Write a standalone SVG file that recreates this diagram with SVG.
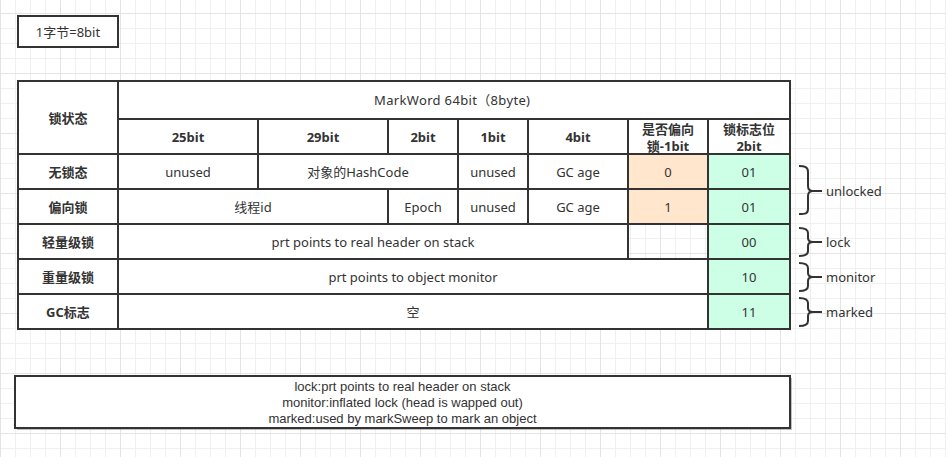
<svg xmlns="http://www.w3.org/2000/svg" width="946" height="457" viewBox="0 0 946 457">
<style>
.t{font-family:"Noto Sans","Noto Sans CJK SC",sans-serif;font-size:13px;fill:#333;text-anchor:middle;dominant-baseline:central}
.b{font-weight:bold}
.l{text-anchor:start}
.c{stroke:#333;stroke-width:2}
.w{fill:#fff}
.p{fill:#ffe6cc}
.g{fill:#ccffe6}
.n{fill:none}
.br{fill:none;stroke:#333;stroke-width:2}
.lg{font-family:"Liberation Sans",Arial,sans-serif;font-size:13px;fill:#333;text-anchor:middle}
</style>
<defs>
<pattern id="grid" x="0" y="13" width="60" height="60" patternUnits="userSpaceOnUse">
<rect x="15" y="0" width="1" height="60" fill="#f0f0f0"/>
<rect x="30" y="0" width="1" height="60" fill="#f0f0f0"/>
<rect x="45" y="0" width="1" height="60" fill="#f0f0f0"/>
<rect x="0" y="15" width="60" height="1" fill="#f0f0f0"/>
<rect x="0" y="30" width="60" height="1" fill="#f0f0f0"/>
<rect x="0" y="45" width="60" height="1" fill="#f0f0f0"/>
<rect x="0" y="0" width="1" height="60" fill="#e4e4e4"/>
<rect x="0" y="0" width="60" height="1" fill="#e4e4e4"/>
</pattern>
</defs>
<rect x="0" y="0" width="946" height="457" fill="#fff"/>
<rect x="0" y="0" width="946" height="457" fill="url(#grid)"/>

<g id="note-byte">
<rect x="18" y="16" width="100" height="31" class="c w"/>
<text x="68" y="31.5" class="t">1字节=8bit</text>
</g>

<g id="table">
<g id="h-state"><rect x="18" y="81" width="100" height="73" class="c w"/><text x="68" y="117.5" class="t b">锁状态</text></g>
<g id="h-markword"><rect x="118" y="81" width="672" height="38" class="c w"/><text x="452" y="100" class="t" textLength="156" lengthAdjust="spacing">MarkWord 64bit（8byte)</text></g>
<g id="h-25"><rect x="118" y="119" width="140" height="35" class="c w"/><text x="188" y="136.5" class="t b">25bit</text></g>
<g id="h-29"><rect x="258" y="119" width="130" height="35" class="c w"/><text x="323" y="136.5" class="t b">29bit</text></g>
<g id="h-2"><rect x="388" y="119" width="70" height="35" class="c w"/><text x="423" y="136.5" class="t b">2bit</text></g>
<g id="h-1"><rect x="458" y="119" width="70" height="35" class="c w"/><text x="493" y="136.5" class="t b">1bit</text></g>
<g id="h-4"><rect x="528" y="119" width="100" height="35" class="c w"/><text x="578" y="136.5" class="t b">4bit</text></g>
<g id="h-biased"><rect x="628" y="119" width="80" height="35" class="c w"/><text class="t b"><tspan x="668" y="128.5">是否偏向</tspan><tspan x="668" y="145.5">锁-1bit</tspan></text></g>
<g id="h-flag"><rect x="708" y="119" width="82" height="35" class="c w"/><text class="t b"><tspan x="749" y="128.5">锁标志位</tspan><tspan x="749" y="145.5">2bit</tspan></text></g>

<g id="r1-state"><rect x="18" y="154" width="100" height="35" class="c w"/><text x="68" y="171.5" class="t b">无锁态</text></g>
<g id="r1-unused"><rect x="118" y="154" width="140" height="35" class="c w"/><text x="188" y="171.5" class="t">unused</text></g>
<g id="r1-hash"><rect x="258" y="154" width="200" height="35" class="c w"/><text x="358" y="171.5" class="t">对象的HashCode</text></g>
<g id="r1-unused2"><rect x="458" y="154" width="70" height="35" class="c w"/><text x="493" y="171.5" class="t">unused</text></g>
<g id="r1-age"><rect x="528" y="154" width="100" height="35" class="c w"/><text x="578" y="171.5" class="t">GC age</text></g>
<g id="r1-biased"><rect x="628" y="154" width="80" height="35" class="c p"/><text x="668" y="171.5" class="t">0</text></g>
<g id="r1-flag"><rect x="708" y="154" width="82" height="35" class="c g"/><text x="749" y="171.5" class="t">01</text></g>

<g id="r2-state"><rect x="18" y="189" width="100" height="35" class="c w"/><text x="68" y="206.5" class="t b">偏向锁</text></g>
<g id="r2-thread"><rect x="118" y="189" width="270" height="35" class="c w"/><text x="253" y="206.5" class="t">线程id</text></g>
<g id="r2-epoch"><rect x="388" y="189" width="70" height="35" class="c w"/><text x="423" y="206.5" class="t">Epoch</text></g>
<g id="r2-unused"><rect x="458" y="189" width="70" height="35" class="c w"/><text x="493" y="206.5" class="t">unused</text></g>
<g id="r2-age"><rect x="528" y="189" width="100" height="35" class="c w"/><text x="578" y="206.5" class="t">GC age</text></g>
<g id="r2-biased"><rect x="628" y="189" width="80" height="35" class="c p"/><text x="668" y="206.5" class="t">1</text></g>
<g id="r2-flag"><rect x="708" y="189" width="82" height="35" class="c g"/><text x="749" y="206.5" class="t">01</text></g>

<g id="r3-state"><rect x="18" y="224" width="100" height="35" class="c w"/><text x="68" y="241.5" class="t b">轻量级锁</text></g>
<g id="r3-ptr"><rect x="118" y="224" width="510" height="35" class="c w"/><text x="373" y="241.5" class="t">prt points to real header on stack</text></g>
<g id="r3-empty"><rect x="628" y="224" width="80" height="35" class="c n"/></g>
<g id="r3-flag"><rect x="708" y="224" width="82" height="35" class="c g"/><text x="749" y="241.5" class="t">00</text></g>

<g id="r4-state"><rect x="18" y="259" width="100" height="35" class="c w"/><text x="68" y="276.5" class="t b">重量级锁</text></g>
<g id="r4-ptr"><rect x="118" y="259" width="590" height="35" class="c w"/><text x="413" y="276.5" class="t">prt points to object monitor</text></g>
<g id="r4-flag"><rect x="708" y="259" width="82" height="35" class="c g"/><text x="749" y="276.5" class="t">10</text></g>

<g id="r5-state"><rect x="18" y="294" width="100" height="35" class="c w"/><text x="68" y="311.5" class="t b">GC标志</text></g>
<g id="r5-empty"><rect x="118" y="294" width="590" height="35" class="c w"/><text x="413" y="311.5" class="t">空</text></g>
<g id="r5-flag"><rect x="708" y="294" width="82" height="35" class="c g"/><text x="749" y="311.5" class="t">11</text></g>
</g>

<g id="brace-unlocked">
<path class="br" d="M799,166 C805,166 808,167 808,172 L808,186 C808,189 810,191 813,191 L822,191 M813,191 C810,191 808,193 808,196 L808,209 C808,214 805,214 799,214"/>
<text x="826" y="191" class="t l">unlocked</text>
</g>
<g id="brace-lock">
<path class="br" d="M799,228 C805,228 808,229 808,233 L808,238 C808,241 810,242 813,242 L822,242 M813,242 C810,242 808,243 808,246 L808,251 C808,255 805,256 799,256"/>
<text x="826" y="242" class="t l">lock</text>
</g>
<g id="brace-monitor">
<path class="br" d="M799,263 C805,263 808,264 808,268 L808,273 C808,276 810,277 813,277 L822,277 M813,277 C810,277 808,278 808,281 L808,286 C808,290 805,291 799,291"/>
<text x="826" y="277" class="t l">monitor</text>
</g>
<g id="brace-marked">
<path class="br" d="M799,298 C805,298 808,299 808,303 L808,308 C808,311 810,312 813,312 L822,312 M813,312 C810,312 808,313 808,316 L808,321 C808,325 805,326 799,326"/>
<text x="826" y="312" class="t l">marked</text>
</g>

<g id="legend">
<rect x="17" y="378" width="775" height="52" fill="#000" opacity="0.25"/>
<rect x="15" y="376" width="775" height="52" class="c w"/>
<text class="lg"><tspan x="402.5" y="390.5">lock:prt points to real header on stack</tspan><tspan x="402.5" y="406.5">monitor:inflated lock (head is wapped out)</tspan><tspan x="402.5" y="422.5">marked:used by markSweep to mark an object</tspan></text>
</g>
</svg>
